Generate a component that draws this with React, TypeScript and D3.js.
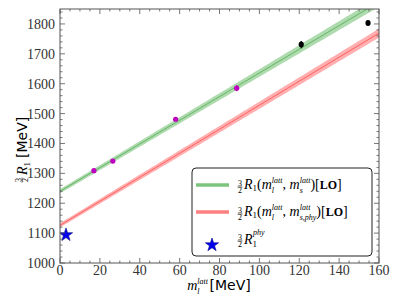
import * as d3 from 'd3';

// lattice data points (m_l, value, error)
const magentaM = [17, 26.5, 58, 88.6];
const magentaV = [1309, 1341, 1481, 1585];
const magentaE = [6, 6, 6, 10];
const blackM = [121, 154.5];
const blackV = [1731, 1803];
const blackE = [12, 6];

// LO fits: intercept, slope, band half-width at 0 and at 160
const greenFit = { a: 1240, b: 3.96, e0: 7, e1: 16 };
const redFit = { a: 1126, b: 4.02, e0: 7, e1: 15 };

const starPoint = { m: 3, v: 1094 };

const xTicks = [0, 20, 40, 60, 80, 100, 120, 140, 160];
const yTicks = [1000, 1100, 1200, 1300, 1400, 1500, 1600, 1700, 1800];

const W = 399, H = 299;
const margin = { top: 9, right: 20, bottom: 36, left: 60 };
const serif = 'Liberation Serif';
const sans = 'DejaVu Sans';

function Frac({ x, y }: { x: number; y: number }) {
  return (
    <g transform={`translate(${x},${y})`}>
      <text x={0} y={-2.5} fontSize={8} fontFamily={serif} textAnchor="middle">3</text>
      <line x1={-2.5} x2={2.5} y1={-1} y2={-1} stroke="#000" strokeWidth={0.6} />
      <text x={0} y={5} fontSize={8} fontFamily={serif} textAnchor="middle">2</text>
    </g>
  );
}

export default function App() {
  const x = d3.scaleLinear().domain([0, 160]).range([margin.left, W - margin.right]);
  const y = d3.scaleLinear().domain([1000, 1850]).range([H - margin.bottom, margin.top]);
  const x0 = x(0), x1 = x(160), y0 = y(1000), y1 = y(1850);

  const ms = d3.range(0, 160.01, 2);
  const band = (f: typeof greenFit) =>
    d3.area<number>()
      .x(m => x(m))
      .y0(m => y(f.a + f.b * m - (f.e0 + (f.e1 - f.e0) * m / 160)))
      .y1(m => y(f.a + f.b * m + (f.e0 + (f.e1 - f.e0) * m / 160)))(ms) || '';
  const line = (f: typeof greenFit) =>
    d3.line<number>().x(m => x(m)).y(m => y(f.a + f.b * m))(ms) || '';

  const star = d3.symbol().type(d3.symbolStar).size(55)() || '';

  const xMinor = d3.range(0, 160.01, 5);
  const yMinor = d3.range(1000, 1850.01, 20);

  return (
    <svg width={W} height={H} style={{ position: 'absolute', left: 0, top: 0, background: '#fff' }}>
      <defs>
        <clipPath id="plot"><rect x={x0} y={y1} width={x1 - x0} height={y0 - y1} /></clipPath>
      </defs>
      <g clipPath="url(#plot)">
        <path d={band(greenFit)} fill="#4caf4c" fillOpacity={0.45} />
        <path d={line(greenFit)} fill="none" stroke="#3c9a3c" strokeWidth={0.8} strokeOpacity={0.8} />
        <path d={band(redFit)} fill="#ff4d4d" fillOpacity={0.45} />
        <path d={line(redFit)} fill="none" stroke="#ff3030" strokeWidth={0.8} strokeOpacity={0.8} />
        {magentaM.map((m, i) => (
          <g key={'m' + i}>
            <line x1={x(m)} x2={x(m)} y1={y(magentaV[i] - magentaE[i])} y2={y(magentaV[i] + magentaE[i])} stroke="#c000c0" strokeWidth={1} />
            <circle cx={x(m)} cy={y(magentaV[i])} r={2.6} fill="#c000c0" />
          </g>
        ))}
        {blackM.map((m, i) => (
          <g key={'b' + i}>
            <line x1={x(m)} x2={x(m)} y1={y(blackV[i] - blackE[i])} y2={y(blackV[i] + blackE[i])} stroke="#000" strokeWidth={1.2} />
            <ellipse cx={x(m)} cy={y(blackV[i])} rx={2.6} ry={3} fill="#000" />
          </g>
        ))}
        <path d={star} transform={`translate(${x(starPoint.m)},${y(starPoint.v)})`} fill="#0000ee" stroke="#00008b" strokeWidth={0.6} />
      </g>

      {/* frame */}
      <rect x={x0} y={y1} width={x1 - x0} height={y0 - y1} fill="none" stroke="#555" strokeWidth={1} />

      {/* ticks */}
      {xMinor.map(m => {
        const len = m % 20 === 0 ? 5 : 2.5;
        return (
          <g key={'xt' + m} stroke="#555" strokeWidth={0.8}>
            <line x1={x(m)} x2={x(m)} y1={y0} y2={y0 - len} />
            <line x1={x(m)} x2={x(m)} y1={y1} y2={y1 + len} />
          </g>
        );
      })}
      {yMinor.map(v => {
        const len = v % 100 === 0 ? 5 : 2.5;
        return (
          <g key={'yt' + v} stroke="#555" strokeWidth={0.8}>
            <line x1={x0} x2={x0 + len} y1={y(v)} y2={y(v)} />
            <line x1={x1} x2={x1 - len} y1={y(v)} y2={y(v)} />
          </g>
        );
      })}
      {xTicks.map(t => (
        <text key={'xl' + t} x={x(t)} y={y0 + 12} fontSize={14} fontFamily={serif} textAnchor="middle" fill="#333">{t}</text>
      ))}
      {yTicks.map(t => (
        <text key={'yl' + t} x={x0 - 5} y={y(t) + 5} fontSize={14} fontFamily={serif} textAnchor="end" fill="#333">{t}</text>
      ))}

      {/* x label */}
      <text x={219} y={290} fontSize={14} fontFamily={serif} fontStyle="italic" textAnchor="middle">m
        <tspan fontSize={8} dy={-6}>latt</tspan>
        <tspan fontSize={8} dx={-10.7} dy={10}>l</tspan>
        <tspan fontSize={14} fontFamily={sans} fontStyle="normal" dx={10} dy={-4}>[MeV]</tspan>
      </text>

      {/* y label */}
      <g transform="translate(23,142) rotate(-90)">
        <Frac x={-38} y={0} />
        <text x={-33} y={4} fontSize={14} fontFamily={serif} fontStyle="italic">R
          <tspan fontSize={9} fontStyle="normal" dy={3}>1</tspan>
          <tspan fontSize={14} fontFamily={sans} fontStyle="normal" dx={4} dy={-3}>[MeV]</tspan>
        </text>
      </g>

      {/* legend */}
      <rect x={192} y={168} width={180} height={88} rx={4} fill="#fff" stroke="#222" strokeWidth={1} />
      <line x1={196} x2={229} y1={185} y2={185} stroke="#7cc47c" strokeWidth={3.5} />
      <line x1={196} x2={229} y1={212} y2={212} stroke="#ff8080" strokeWidth={3.5} />
      <path d={star} transform="translate(212,245)" fill="#0000ee" stroke="#00008b" strokeWidth={0.6} />

      <Frac x={240} y={188} />
      <text x={244} y={189} fontSize={14} fontFamily={serif} fontStyle="italic">R
        <tspan fontSize={9} fontStyle="normal" dy={2}>1</tspan>
        <tspan fontStyle="normal" dy={-2}>(</tspan>m
        <tspan fontSize={8} dy={-6}>latt</tspan>
        <tspan fontSize={8} dx={-10.7} dy={10}>l</tspan>
        <tspan fontSize={14} fontStyle="normal" dx={8.5} dy={-4}>, </tspan>m
        <tspan fontSize={8} dy={-6}>latt</tspan>
        <tspan fontSize={8} dx={-10.7} dy={10}>s</tspan>
        <tspan fontSize={14} fontStyle="normal" dx={7.6} dy={-4}>)[</tspan>
        <tspan fontSize={12} fontStyle="normal" fontWeight="bold">LO</tspan>
        <tspan fontSize={14} fontStyle="normal">]</tspan>
      </text>

      <Frac x={240} y={215} />
      <text x={244} y={216} fontSize={14} fontFamily={serif} fontStyle="italic">R
        <tspan fontSize={9} fontStyle="normal" dy={2}>1</tspan>
        <tspan fontStyle="normal" dy={-2}>(</tspan>m
        <tspan fontSize={8} dy={-6}>latt</tspan>
        <tspan fontSize={8} dx={-10.7} dy={10}>l</tspan>
        <tspan fontSize={14} fontStyle="normal" dx={8.5} dy={-4}>, </tspan>m
        <tspan fontSize={8} dy={-6}>latt</tspan>
        <tspan fontSize={8} dx={-10.7} dy={10}>s,phy</tspan>
        <tspan fontSize={14} fontStyle="normal" dy={-4}>)[</tspan>
        <tspan fontSize={12} fontStyle="normal" fontWeight="bold">LO</tspan>
        <tspan fontSize={14} fontStyle="normal">]</tspan>
      </text>

      <Frac x={240} y={242} />
      <text x={244} y={244} fontSize={14} fontFamily={serif} fontStyle="italic">R
        <tspan fontSize={9} fontStyle="normal" dy={3}>1</tspan>
        <tspan fontSize={8} fontStyle="italic" dx={-4} dy={-12}>phy</tspan>
      </text>
    </svg>
  );
}
